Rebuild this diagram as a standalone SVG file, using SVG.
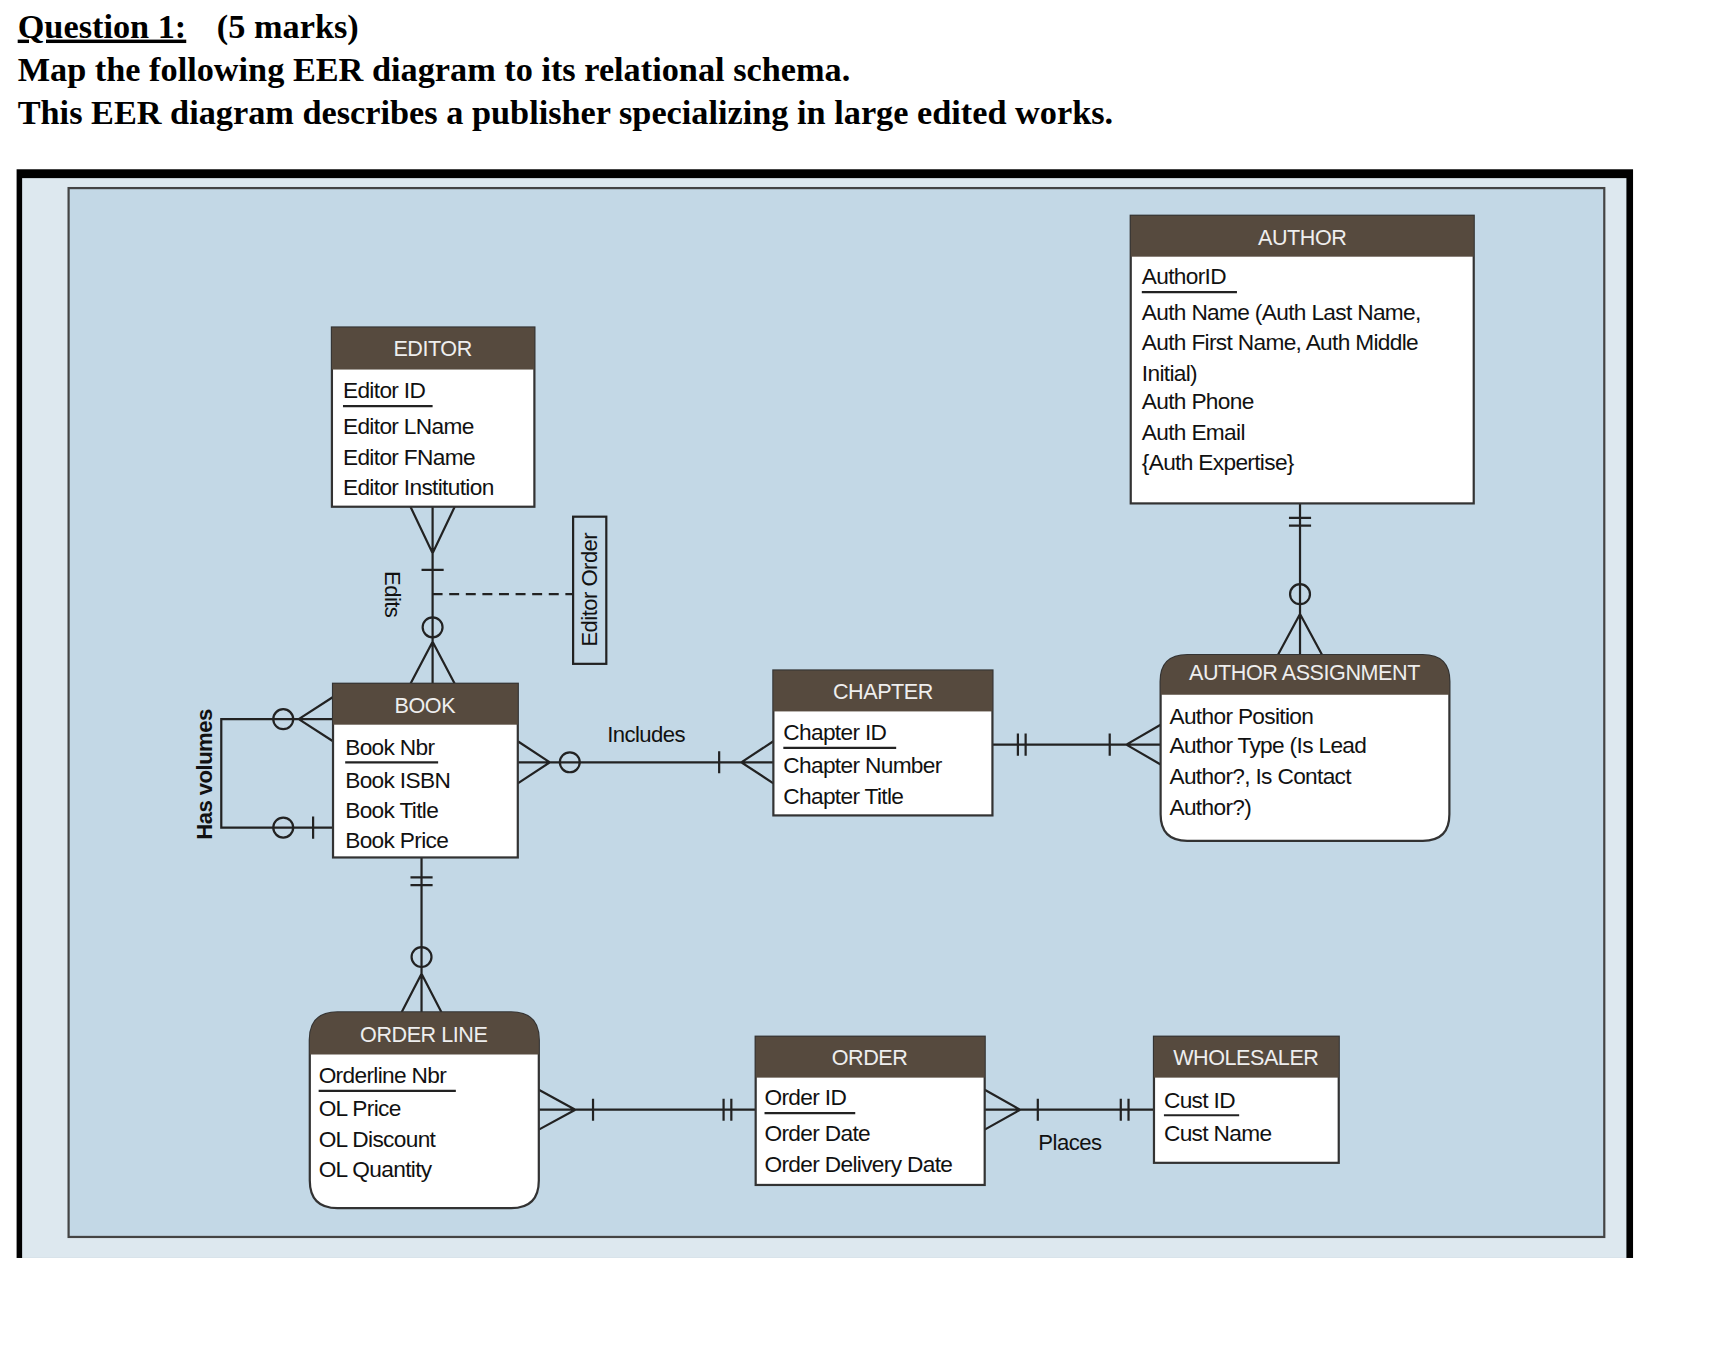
<svg xmlns="http://www.w3.org/2000/svg" width="1726" height="1348" viewBox="0 0 1726 1348">
<style>
.q{font-family:"Liberation Serif",serif;font-weight:bold;font-size:31px;fill:#000}
.h{font-family:"Liberation Sans",Arial,sans-serif;font-size:19.5px;fill:#eee;text-anchor:middle;letter-spacing:-0.4px}
.a{font-family:"Liberation Sans",Arial,sans-serif;font-size:20.5px;fill:#111;letter-spacing:-0.6px}
.l{font-family:"Liberation Sans",Arial,sans-serif;font-size:20px;fill:#111;letter-spacing:-0.5px}
.hd{fill:#564a3e}
.bx{fill:#fff;stroke:#333;stroke-width:2}
.c{fill:none;stroke:#222;stroke-width:2}
.u{stroke:#222;stroke-width:2}
</style>
<rect width="1726" height="1348" fill="#fff"/>
<g transform="scale(1.1064)">
<text class="q" x="16" y="34" text-decoration="underline">Question 1:</text>
<text class="q" x="196" y="34">(5 marks)</text>
<text class="q" x="16" y="73">Map the following EER diagram to its relational schema.</text>
<text class="q" x="16" y="112">This EER diagram describes a publisher specializing in large edited works.</text>
<rect x="15" y="153" width="1461" height="984" fill="#000"/>
<rect x="20" y="161" width="1450" height="976" fill="#dde8ef"/>
<rect x="62" y="170" width="1388" height="948" fill="#c3d8e6" stroke="#444" stroke-width="2"/>

<g id="connectors">
<path class="c" d="M391 458V618 M371 458L391 500L411 458 M391 580L371 618 M391 580L411 618 M381 515H401"/>
<circle class="c" cx="391" cy="567" r="9" fill="#c3d8e6"/>
<path class="c" d="M391 537H518" stroke-dasharray="9,6"/>
<path class="c" d="M301 650H200V748H301 M270 650L301 630 M270 650L301 670 M283 738V758"/>
<circle class="c" cx="256" cy="650" r="9" fill="#c3d8e6"/>
<circle class="c" cx="256" cy="748" r="9" fill="#c3d8e6"/>
<path class="c" d="M468 689H699 M497 689L468 670 M497 689L468 708 M650 679V699 M670 689L699 670 M670 689L699 708"/>
<circle class="c" cx="515" cy="689" r="9" fill="#c3d8e6"/>
<path class="c" d="M897 673H1049 M920 663V683 M927 663V683 M1003 663V683 M1018 673L1049 655 M1018 673L1049 691"/>
<path class="c" d="M1175 455V592 M1165 468H1185 M1165 475H1185 M1175 555L1155 592 M1175 555L1195 592"/>
<circle class="c" cx="1175" cy="537" r="9" fill="#c3d8e6"/>
<path class="c" d="M381 775V915 M371 793H391 M371 800H391 M381 880L363 915 M381 880L399 915"/>
<circle class="c" cx="381" cy="865" r="9" fill="#c3d8e6"/>
<path class="c" d="M487 1003H683 M520 1003L487 985 M520 1003L487 1021 M536 993V1013 M654 993V1013 M661 993V1013"/>
<path class="c" d="M890 1003H1043 M922 1003L890 985 M922 1003L890 1021 M938 993V1013 M1013 993V1013 M1020 993V1013"/>
<text class="l" x="584" y="671" text-anchor="middle">Includes</text>
<text class="l" x="967" y="1039" text-anchor="middle">Places</text>
<text class="l" transform="translate(348,537) rotate(90)" text-anchor="middle">Edits</text>
<text class="l" transform="translate(192,700) rotate(-90)" text-anchor="middle" font-weight="bold">Has volumes</text>
<rect x="518" y="467" width="30" height="133" fill="#c3d8e6" stroke="#222" stroke-width="2"/>
<text class="l" transform="translate(540,533) rotate(-90)" text-anchor="middle">Editor Order</text>
</g>

<g id="editor">
<rect class="bx" x="300" y="296" width="183" height="162"/>
<rect class="hd" x="300" y="296" width="183" height="38"/>
<text class="h" x="391" y="322">EDITOR</text>
<text class="a" x="310" y="360">Editor ID</text><line class="u" x1="310" y1="367" x2="391" y2="367"/>
<text class="a" x="310" y="392">Editor LName</text>
<text class="a" x="310" y="420">Editor FName</text>
<text class="a" x="310" y="447">Editor Institution</text>
</g>
<g id="book">
<rect class="bx" x="301" y="618" width="167" height="157"/>
<rect class="hd" x="301" y="618" width="167" height="37"/>
<text class="h" x="384" y="644">BOOK</text>
<text class="a" x="312" y="682">Book Nbr</text><line class="u" x1="312" y1="689" x2="396" y2="689"/>
<text class="a" x="312" y="712">Book ISBN</text>
<text class="a" x="312" y="739">Book Title</text>
<text class="a" x="312" y="766">Book Price</text>
</g>
<g id="chapter">
<rect class="bx" x="699" y="606" width="198" height="131"/>
<rect class="hd" x="699" y="606" width="198" height="37"/>
<text class="h" x="798" y="632">CHAPTER</text>
<text class="a" x="708" y="669">Chapter ID</text><line class="u" x1="708" y1="676" x2="810" y2="676"/>
<text class="a" x="708" y="699">Chapter Number</text>
<text class="a" x="708" y="727">Chapter Title</text>
</g>
<g id="author">
<rect class="bx" x="1022" y="195" width="310" height="260"/>
<rect class="hd" x="1022" y="195" width="310" height="37"/>
<text class="h" x="1177" y="221">AUTHOR</text>
<text class="a" x="1032" y="257">AuthorID</text><line class="u" x1="1032" y1="264" x2="1118" y2="264"/>
<text class="a" x="1032" y="289">Auth Name (Auth Last Name,</text>
<text class="a" x="1032" y="316">Auth First Name, Auth Middle</text>
<text class="a" x="1032" y="344">Initial)</text>
<text class="a" x="1032" y="370">Auth Phone</text>
<text class="a" x="1032" y="398">Auth Email</text>
<text class="a" x="1032" y="425">{Auth Expertise}</text>
</g>
<g id="author-assignment">
<path class="bx" d="M1073 592H1286Q1310 592 1310 616V736Q1310 760 1286 760H1073Q1049 760 1049 736V616Q1049 592 1073 592Z"/>
<path class="hd" d="M1073 592H1286Q1310 592 1310 616V628H1049V616Q1049 592 1073 592Z"/>
<text class="h" x="1179" y="615">AUTHOR ASSIGNMENT</text>
<text class="a" x="1057" y="654">Author Position</text>
<text class="a" x="1057" y="681">Author Type (Is Lead</text>
<text class="a" x="1057" y="709">Author?, Is Contact</text>
<text class="a" x="1057" y="737">Author?)</text>
</g>
<g id="order-line">
<path class="bx" d="M305 915H462Q487 915 487 940V1067Q487 1092 462 1092H305Q280 1092 280 1067V940Q280 915 305 915Z"/>
<path class="hd" d="M305 915H462Q487 915 487 940V953H280V940Q280 915 305 915Z"/>
<text class="h" x="383" y="942">ORDER LINE</text>
<text class="a" x="288" y="979">Orderline Nbr</text><line class="u" x1="288" y1="986" x2="412" y2="986"/>
<text class="a" x="288" y="1009">OL Price</text>
<text class="a" x="288" y="1037">OL Discount</text>
<text class="a" x="288" y="1064">OL Quantity</text>
</g>
<g id="order">
<rect class="bx" x="683" y="937" width="207" height="134"/>
<rect class="hd" x="683" y="937" width="207" height="37"/>
<text class="h" x="786" y="963">ORDER</text>
<text class="a" x="691" y="999">Order ID</text><line class="u" x1="691" y1="1006" x2="773" y2="1006"/>
<text class="a" x="691" y="1031">Order Date</text>
<text class="a" x="691" y="1059">Order Delivery Date</text>
</g>
<g id="wholesaler">
<rect class="bx" x="1043" y="937" width="167" height="114"/>
<rect class="hd" x="1043" y="937" width="167" height="37"/>
<text class="h" x="1126" y="963">WHOLESALER</text>
<text class="a" x="1052" y="1001">Cust ID</text><line class="u" x1="1052" y1="1008" x2="1120" y2="1008"/>
<text class="a" x="1052" y="1031">Cust Name</text>
</g>
</g>
</svg>
